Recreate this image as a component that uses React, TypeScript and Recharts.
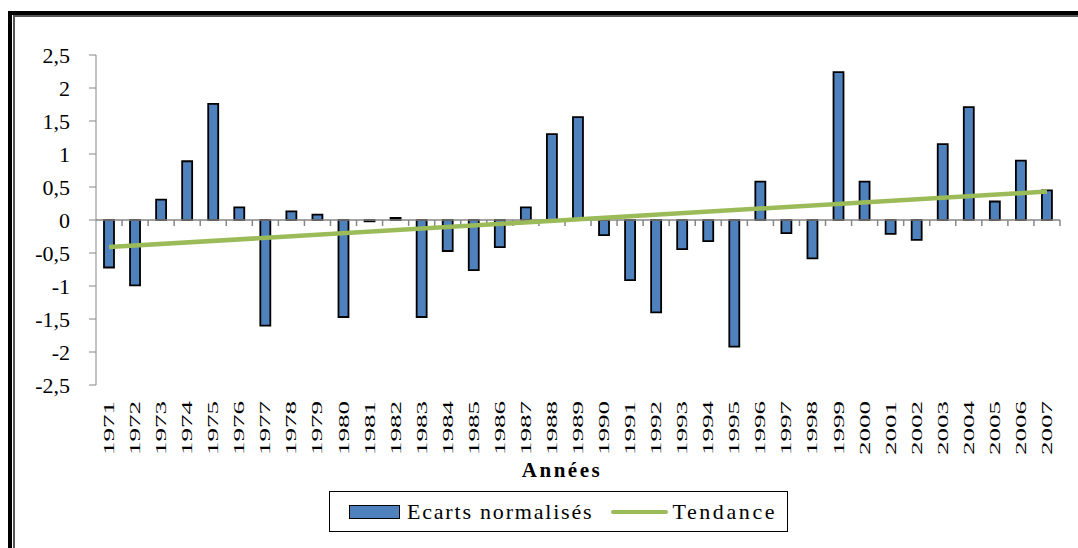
import {
    ComposedChart,
    Bar,
    Line,
    XAxis,
    YAxis,
    Legend,
    ReferenceLine
} from "recharts";

const years = [
    "1971", "1972", "1973", "1974", "1975", "1976", "1977", "1978", "1979", "1980",
    "1981", "1982", "1983", "1984", "1985", "1986", "1987", "1988", "1989", "1990",
    "1991", "1992", "1993", "1994", "1995", "1996", "1997", "1998", "1999", "2000",
    "2001", "2002", "2003", "2004", "2005", "2006", "2007"
];

const ecarts = [
    -0.72, -0.99, 0.31, 0.89, 1.76, 0.19, -1.6, 0.13, 0.08, -1.47,
    -0.02, 0.03, -1.47, -0.47, -0.76, -0.41, 0.19, 1.3, 1.56, -0.23,
    -0.91, -1.4, -0.44, -0.32, -1.92, 0.58, -0.2, -0.58, 2.24, 0.58,
    -0.21, -0.3, 1.15, 1.71, 0.28, 0.9, 0.45
];

// linear trend, only the two end points are known
const trendStart = -0.41;
const trendEnd = 0.43;

const yTicks = [-2.5, -2, -1.5, -1, -0.5, 0, 0.5, 1, 1.5, 2, 2.5];

const BLUE = "#4F81BD";
const GREEN = "#9BBB59";
const AXIS = "#868686";
const FONT = "Liberation Serif, Tinos, Times New Roman, DejaVu Serif, serif";

const data = years.map((y, i) => ({
    year: y,
    ecart: ecarts[i],
    tendance: i === 0 ? trendStart : i === years.length - 1 ? trendEnd : null
}));

function YearTick(props: any) {
    const { x, y, payload } = props;
    return (
        <text
            transform={`translate(${x + 5}, ${y + 8}) rotate(-90) scale(1.8, 1)`}
            textAnchor="end"
            style={{ fontFamily: FONT }}
            fontSize={15}
            fill="#000"
        >
            {payload.value}
        </text>
    );
}

// zero line with Excel-style tick marks between categories
function ZeroAxis(props: any) {
    const { x1, y1, x2 } = props;
    const step = (x2 - x1) / years.length;
    return (
        <g>
            <line x1={x1} y1={y1} x2={x2} y2={y1} stroke={AXIS} strokeWidth={1.5} />
            {years.map((_, i) => (
                <line key={i} x1={x1 + (i + 1) * step} y1={y1} x2={x1 + (i + 1) * step} y2={y1 + 6} stroke={AXIS} strokeWidth={1.5} />
            ))}
        </g>
    );
}

function TitleLabel(props: any) {
    const { viewBox } = props;
    return (
        <text
            x={viewBox.x + viewBox.width / 2 - 16}
            y={viewBox.y + 92}
            textAnchor="middle"
            style={{ fontFamily: FONT }}
            fontWeight="bold"
            fontSize={21}
            letterSpacing={2.5}
            fill="#000"
        >
            Années
        </text>
    );
}

function LegendBox() {
    return (
        <div
            style={{
                boxSizing: "border-box",
                width: 459,
                height: 41,
                border: "1.5px solid #000",
                background: "#fff",
                display: "flex",
                alignItems: "center",
                paddingLeft: 19,
                fontFamily: FONT,
                fontSize: 22,
                color: "#000"
            }}
        >
            <span style={{ display: "inline-block", boxSizing: "border-box", width: 51, height: 14, background: BLUE, border: "1.5px solid #000" }} />
            <span style={{ marginLeft: 7, letterSpacing: 1.8 }}>Ecarts normalisés</span>
            <span style={{ display: "inline-block", width: 57, height: 4, background: GREEN, marginLeft: 18, borderRadius: 2 }} />
            <span style={{ marginLeft: 4, letterSpacing: 2.6 }}>Tendance</span>
        </div>
    );
}

export default function App() {
    return (
        <div style={{ position: "absolute", left: 0, top: 0, width: 1078, height: 548, overflow: "hidden", background: "#fff" }}>
            <div style={{ position: "absolute", left: 8, top: 11, width: 1200, height: 700, borderTop: "4px solid #000", borderLeft: "4px solid #000" }}>
                <div style={{ position: "absolute", left: 1, top: 0, right: 0, bottom: 0, borderTop: "2px solid #555", borderLeft: "2px solid #555" }} />
            </div>
            <div style={{ position: "absolute", left: 0, top: 0 }}>
                <ComposedChart
                    width={1078}
                    height={548}
                    data={data}
                    margin={{ top: 55, right: 18, bottom: 0, left: 0 }}
                >
                    <XAxis
                        dataKey="year"
                        axisLine={false}
                        tickLine={false}
                        interval={0}
                        height={163}
                        tick={<YearTick />}
                        label={<TitleLabel />}
                    />
                    <YAxis
                        width={96}
                        domain={[-2.5, 2.5]}
                        ticks={yTicks}
                        interval={0}
                        stroke={AXIS}
                        tickSize={7}
                        tickMargin={19}
                        tick={{ fill: "#000", fontSize: 22, style: { fontFamily: FONT } }}
                        tickFormatter={(v: number) => String(v).replace(".", ",")}
                    />
                    <ReferenceLine y={0} shape={<ZeroAxis />} />
                    <Bar dataKey="ecart" name="Ecarts normalisés" fill={BLUE} stroke="#000" strokeWidth={1.8} barSize={10} isAnimationActive={false} />
                    <Line dataKey="tendance" name="Tendance" stroke={GREEN} strokeWidth={4.5} dot={false} activeDot={false} connectNulls isAnimationActive={false} />
                    <Legend
                        layout="horizontal"
                        verticalAlign="middle"
                        align="center"
                        content={<LegendBox />}
                        wrapperStyle={{ left: 329, top: 491, width: 459, height: 41 }}
                    />
                </ComposedChart>
            </div>
        </div>
    );
}
